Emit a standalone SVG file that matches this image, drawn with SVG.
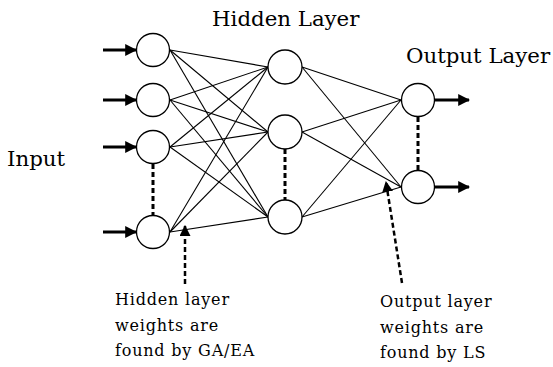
<svg xmlns="http://www.w3.org/2000/svg" width="553" height="367" viewBox="0 0 553 367">
  <style>
    .node { fill: #fff; stroke: #000; stroke-width: 1.3; }
    .link { stroke: #000; stroke-width: 1.1; fill: none; }
    .io { stroke: #000; stroke-width: 3; fill: none; marker-end: url(#head); }
    .ellipsis { stroke: #000; stroke-width: 3; stroke-dasharray: 5 3; fill: none; }
    .pointer { stroke: #000; stroke-width: 2.5; stroke-dasharray: 5 3; fill: none; marker-end: url(#head2); }
    text { font-family: "DejaVu Serif", serif; fill: #000; }
    .title { font-size: 21.3px; }
    .note { font-size: 16px; letter-spacing: 0.8px; }
  </style>
  <defs>
    <marker id="head" viewBox="0 0 10 10" refX="9" refY="5" markerWidth="4" markerHeight="4" orient="auto" markerUnits="strokeWidth">
      <path d="M0,0 L10,5 L0,10 z" fill="#000"/>
    </marker>
    <marker id="head2" viewBox="0 0 10 10" refX="9" refY="5" markerWidth="4.4" markerHeight="4.4" orient="auto" markerUnits="strokeWidth">
      <path d="M0,0 L10,5 L0,10 z" fill="#000"/>
    </marker>
  </defs>
  <rect width="553" height="367" fill="#fff"/>

  <!-- weighted connections: input -> hidden -> output -->
  <g id="connectors">
    <line class="link" x1="170" y1="50" x2="268" y2="67"/>
    <line class="link" x1="170" y1="50" x2="268" y2="132"/>
    <line class="link" x1="170" y1="50" x2="268" y2="217"/>
    <line class="link" x1="170" y1="100" x2="268" y2="67"/>
    <line class="link" x1="170" y1="100" x2="268" y2="132"/>
    <line class="link" x1="170" y1="100" x2="268" y2="217"/>
    <line class="link" x1="170" y1="147" x2="268" y2="67"/>
    <line class="link" x1="170" y1="147" x2="268" y2="132"/>
    <line class="link" x1="170" y1="147" x2="268" y2="217"/>
    <line class="link" x1="170" y1="232" x2="268" y2="67"/>
    <line class="link" x1="170" y1="232" x2="268" y2="132"/>
    <line class="link" x1="170" y1="232" x2="268" y2="217"/>
    <line class="link" x1="302" y1="67" x2="401" y2="100"/>
    <line class="link" x1="302" y1="67" x2="401" y2="187"/>
    <line class="link" x1="302" y1="132" x2="401" y2="100"/>
    <line class="link" x1="302" y1="132" x2="401" y2="187"/>
    <line class="link" x1="302" y1="217" x2="401" y2="100"/>
    <line class="link" x1="302" y1="217" x2="401" y2="187"/>

    <!-- inputs and outputs -->
    <line class="io" x1="103" y1="50" x2="136" y2="50"/>
    <line class="io" x1="103" y1="100" x2="136" y2="100"/>
    <line class="io" x1="103" y1="147" x2="136" y2="147"/>
    <line class="io" x1="103" y1="232" x2="136" y2="232"/>
    <line class="io" x1="435" y1="100" x2="469" y2="100"/>
    <line class="io" x1="435" y1="187" x2="469" y2="187"/>

    <!-- omitted units -->
    <line class="ellipsis" x1="153" y1="164" x2="153" y2="215"/>
    <line class="ellipsis" x1="285" y1="149" x2="285" y2="200"/>
    <line class="ellipsis" x1="418" y1="117" x2="418" y2="170"/>

    <!-- annotation pointers -->
    <line class="pointer" x1="185" y1="284" x2="185" y2="226"/>
    <line class="pointer" x1="402" y1="283" x2="386" y2="182"/>
  </g>

  <g id="in1"><circle class="node" cx="153" cy="50" r="16.5"/></g>
  <g id="in2"><circle class="node" cx="153" cy="100" r="16.5"/></g>
  <g id="in3"><circle class="node" cx="153" cy="147" r="16.5"/></g>
  <g id="in4"><circle class="node" cx="153" cy="232" r="16.5"/></g>
  <g id="hid1"><circle class="node" cx="285" cy="67" r="17"/></g>
  <g id="hid2"><circle class="node" cx="285" cy="132" r="17"/></g>
  <g id="hid3"><circle class="node" cx="285" cy="217" r="17"/></g>
  <g id="out1"><circle class="node" cx="418" cy="100" r="16.5"/></g>
  <g id="out2"><circle class="node" cx="418" cy="187" r="16.5"/></g>

  <g id="labels">
    <text class="title" x="212" y="26">Hidden Layer</text>
    <text class="title" x="406" y="63">Output Layer</text>
    <text class="title" x="7" y="166">Input</text>
    <text class="note" x="115" y="305">Hidden layer</text>
    <text class="note" x="115" y="331">weights are</text>
    <text class="note" x="115" y="356">found by GA/EA</text>
    <text class="note" x="380" y="307">Output layer</text>
    <text class="note" x="380" y="333">weights are</text>
    <text class="note" x="380" y="358">found by LS</text>
  </g>
</svg>
